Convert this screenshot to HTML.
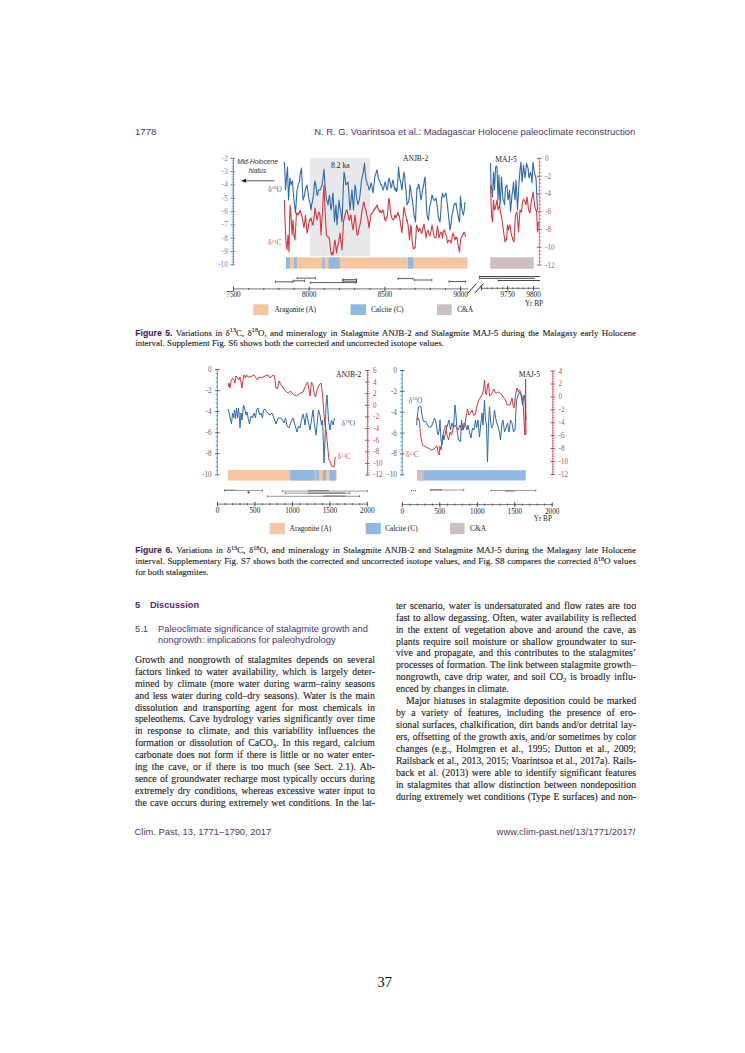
<!DOCTYPE html>
<html><head><meta charset="utf-8"><title>Madagascar Holocene paleoclimate reconstruction</title>
<style>
html,body{margin:0;padding:0;background:#fff;}
body{width:745px;height:1053px;position:relative;overflow:hidden;}
.bt,.ct,.hd,.sn{position:absolute;white-space:normal;line-height:0;height:0;}
.bt{font-family:"Liberation Serif",serif;font-size:9.8px;color:#1d1d1d;text-align:justify;text-align-last:justify;}
.ct{font-family:"Liberation Serif",serif;font-size:8.95px;color:#1d1d1d;text-align:justify;text-align-last:justify;}
.l{text-align-last:left;}
.bt sub,.ct sub{font-size:70%;vertical-align:baseline;position:relative;top:0.28em;line-height:0;}
.bt sup,.ct sup{font-size:70%;vertical-align:baseline;position:relative;top:-0.5em;line-height:0;}
.fl{font-family:"Liberation Sans",sans-serif;font-weight:bold;color:#55246a;font-size:8.7px;}
.hd{font-family:"Liberation Sans",sans-serif;color:#50336f;white-space:nowrap;}
svg{position:absolute;left:0;top:0;}
.bt,.ct{-webkit-text-stroke:0.12px #1d1d1d;}
</style></head><body>
<div class="hd" style="left:135.0px;top:131.55px;font-size:9.65px">1778</div>
<div class="hd" style="left:314.2px;top:131.63px;font-size:9.44px">N. R. G. Voarintsoa et al.: Madagascar Holocene paleoclimate reconstruction</div>
<svg width="745" height="1053" viewBox="0 0 745 1053"><rect x="310.2" y="158.1" width="60" height="98" fill="#e8e8eb"/>
<text x="340.4" y="167.8" font-family="Liberation Serif, serif" font-size="7.6" fill="#222" text-anchor="middle"  >8.2 ka</text>
<text x="415.6" y="161.3" font-family="Liberation Serif, serif" font-size="7.6" fill="#222" text-anchor="middle"  >ANJB-2</text>
<text x="506.1" y="161.5" font-family="Liberation Serif, serif" font-size="7.6" fill="#222" text-anchor="middle"  >MAJ-5</text>
<line x1="233.4" y1="158.4" x2="233.4" y2="264.8" stroke="#3f7cae" stroke-width="0.9"/>
<line x1="230.4" y1="158.4" x2="234.9" y2="158.4" stroke="#3f7cae" stroke-width="0.9"/>
<text x="227.8" y="160.8" font-family="Liberation Serif, serif" font-size="7.2" fill="#5b8fbd" text-anchor="end"  >-2</text>
<line x1="231.6" y1="161.1" x2="233.4" y2="161.1" stroke="#3f7cae" stroke-width="0.6"/>
<line x1="231.6" y1="163.7" x2="233.4" y2="163.7" stroke="#3f7cae" stroke-width="0.6"/>
<line x1="231.6" y1="166.4" x2="233.4" y2="166.4" stroke="#3f7cae" stroke-width="0.6"/>
<line x1="231.6" y1="169.0" x2="233.4" y2="169.0" stroke="#3f7cae" stroke-width="0.6"/>
<line x1="230.4" y1="171.7" x2="234.9" y2="171.7" stroke="#3f7cae" stroke-width="0.9"/>
<text x="227.8" y="174.1" font-family="Liberation Serif, serif" font-size="7.2" fill="#5b8fbd" text-anchor="end"  >-3</text>
<line x1="231.6" y1="174.4" x2="233.4" y2="174.4" stroke="#3f7cae" stroke-width="0.6"/>
<line x1="231.6" y1="177.0" x2="233.4" y2="177.0" stroke="#3f7cae" stroke-width="0.6"/>
<line x1="231.6" y1="179.7" x2="233.4" y2="179.7" stroke="#3f7cae" stroke-width="0.6"/>
<line x1="231.6" y1="182.3" x2="233.4" y2="182.3" stroke="#3f7cae" stroke-width="0.6"/>
<line x1="230.4" y1="185.0" x2="234.9" y2="185.0" stroke="#3f7cae" stroke-width="0.9"/>
<text x="227.8" y="187.4" font-family="Liberation Serif, serif" font-size="7.2" fill="#5b8fbd" text-anchor="end"  >-4</text>
<line x1="231.6" y1="187.7" x2="233.4" y2="187.7" stroke="#3f7cae" stroke-width="0.6"/>
<line x1="231.6" y1="190.3" x2="233.4" y2="190.3" stroke="#3f7cae" stroke-width="0.6"/>
<line x1="231.6" y1="193.0" x2="233.4" y2="193.0" stroke="#3f7cae" stroke-width="0.6"/>
<line x1="231.6" y1="195.6" x2="233.4" y2="195.6" stroke="#3f7cae" stroke-width="0.6"/>
<line x1="230.4" y1="198.3" x2="234.9" y2="198.3" stroke="#3f7cae" stroke-width="0.9"/>
<text x="227.8" y="200.7" font-family="Liberation Serif, serif" font-size="7.2" fill="#5b8fbd" text-anchor="end"  >-5</text>
<line x1="231.6" y1="201.0" x2="233.4" y2="201.0" stroke="#3f7cae" stroke-width="0.6"/>
<line x1="231.6" y1="203.6" x2="233.4" y2="203.6" stroke="#3f7cae" stroke-width="0.6"/>
<line x1="231.6" y1="206.3" x2="233.4" y2="206.3" stroke="#3f7cae" stroke-width="0.6"/>
<line x1="231.6" y1="208.9" x2="233.4" y2="208.9" stroke="#3f7cae" stroke-width="0.6"/>
<line x1="230.4" y1="211.6" x2="234.9" y2="211.6" stroke="#3f7cae" stroke-width="0.9"/>
<text x="227.8" y="214.0" font-family="Liberation Serif, serif" font-size="7.2" fill="#5b8fbd" text-anchor="end"  >-6</text>
<line x1="231.6" y1="214.3" x2="233.4" y2="214.3" stroke="#3f7cae" stroke-width="0.6"/>
<line x1="231.6" y1="216.9" x2="233.4" y2="216.9" stroke="#3f7cae" stroke-width="0.6"/>
<line x1="231.6" y1="219.6" x2="233.4" y2="219.6" stroke="#3f7cae" stroke-width="0.6"/>
<line x1="231.6" y1="222.2" x2="233.4" y2="222.2" stroke="#3f7cae" stroke-width="0.6"/>
<line x1="230.4" y1="224.9" x2="234.9" y2="224.9" stroke="#3f7cae" stroke-width="0.9"/>
<text x="227.8" y="227.3" font-family="Liberation Serif, serif" font-size="7.2" fill="#5b8fbd" text-anchor="end"  >-7</text>
<line x1="231.6" y1="227.6" x2="233.4" y2="227.6" stroke="#3f7cae" stroke-width="0.6"/>
<line x1="231.6" y1="230.2" x2="233.4" y2="230.2" stroke="#3f7cae" stroke-width="0.6"/>
<line x1="231.6" y1="232.9" x2="233.4" y2="232.9" stroke="#3f7cae" stroke-width="0.6"/>
<line x1="231.6" y1="235.5" x2="233.4" y2="235.5" stroke="#3f7cae" stroke-width="0.6"/>
<line x1="230.4" y1="238.2" x2="234.9" y2="238.2" stroke="#3f7cae" stroke-width="0.9"/>
<text x="227.8" y="240.6" font-family="Liberation Serif, serif" font-size="7.2" fill="#5b8fbd" text-anchor="end"  >-8</text>
<line x1="231.6" y1="240.9" x2="233.4" y2="240.9" stroke="#3f7cae" stroke-width="0.6"/>
<line x1="231.6" y1="243.5" x2="233.4" y2="243.5" stroke="#3f7cae" stroke-width="0.6"/>
<line x1="231.6" y1="246.2" x2="233.4" y2="246.2" stroke="#3f7cae" stroke-width="0.6"/>
<line x1="231.6" y1="248.8" x2="233.4" y2="248.8" stroke="#3f7cae" stroke-width="0.6"/>
<line x1="230.4" y1="251.5" x2="234.9" y2="251.5" stroke="#3f7cae" stroke-width="0.9"/>
<text x="227.8" y="253.9" font-family="Liberation Serif, serif" font-size="7.2" fill="#5b8fbd" text-anchor="end"  >-9</text>
<line x1="231.6" y1="254.2" x2="233.4" y2="254.2" stroke="#3f7cae" stroke-width="0.6"/>
<line x1="231.6" y1="256.8" x2="233.4" y2="256.8" stroke="#3f7cae" stroke-width="0.6"/>
<line x1="231.6" y1="259.5" x2="233.4" y2="259.5" stroke="#3f7cae" stroke-width="0.6"/>
<line x1="231.6" y1="262.1" x2="233.4" y2="262.1" stroke="#3f7cae" stroke-width="0.6"/>
<line x1="230.4" y1="264.8" x2="234.9" y2="264.8" stroke="#3f7cae" stroke-width="0.9"/>
<text x="227.8" y="267.2" font-family="Liberation Serif, serif" font-size="7.2" fill="#5b8fbd" text-anchor="end"  >-10</text>
<line x1="539.3" y1="158.4" x2="539.3" y2="265.1" stroke="#e0677a" stroke-width="0.9"/>
<line x1="536.8" y1="158.4" x2="541.5" y2="158.4" stroke="#b84050" stroke-width="0.9"/>
<text x="545.0" y="160.8" font-family="Liberation Serif, serif" font-size="7.2" fill="#c0505f" text-anchor="start"  >0</text>
<line x1="539.3" y1="162.0" x2="541.1999999999999" y2="162.0" stroke="#b84050" stroke-width="0.6"/>
<line x1="539.3" y1="165.5" x2="541.1999999999999" y2="165.5" stroke="#b84050" stroke-width="0.6"/>
<line x1="539.3" y1="169.1" x2="541.1999999999999" y2="169.1" stroke="#b84050" stroke-width="0.6"/>
<line x1="539.3" y1="172.6" x2="541.1999999999999" y2="172.6" stroke="#b84050" stroke-width="0.6"/>
<line x1="536.8" y1="176.2" x2="541.5" y2="176.2" stroke="#b84050" stroke-width="0.9"/>
<text x="545.0" y="178.6" font-family="Liberation Serif, serif" font-size="7.2" fill="#c0505f" text-anchor="start"  >-2</text>
<line x1="539.3" y1="179.7" x2="541.1999999999999" y2="179.7" stroke="#b84050" stroke-width="0.6"/>
<line x1="539.3" y1="183.3" x2="541.1999999999999" y2="183.3" stroke="#b84050" stroke-width="0.6"/>
<line x1="539.3" y1="186.9" x2="541.1999999999999" y2="186.9" stroke="#b84050" stroke-width="0.6"/>
<line x1="539.3" y1="190.4" x2="541.1999999999999" y2="190.4" stroke="#b84050" stroke-width="0.6"/>
<line x1="536.8" y1="194.0" x2="541.5" y2="194.0" stroke="#b84050" stroke-width="0.9"/>
<text x="545.0" y="196.4" font-family="Liberation Serif, serif" font-size="7.2" fill="#c0505f" text-anchor="start"  >-4</text>
<line x1="539.3" y1="197.5" x2="541.1999999999999" y2="197.5" stroke="#b84050" stroke-width="0.6"/>
<line x1="539.3" y1="201.1" x2="541.1999999999999" y2="201.1" stroke="#b84050" stroke-width="0.6"/>
<line x1="539.3" y1="204.6" x2="541.1999999999999" y2="204.6" stroke="#b84050" stroke-width="0.6"/>
<line x1="539.3" y1="208.2" x2="541.1999999999999" y2="208.2" stroke="#b84050" stroke-width="0.6"/>
<line x1="536.8" y1="211.8" x2="541.5" y2="211.8" stroke="#b84050" stroke-width="0.9"/>
<text x="545.0" y="214.2" font-family="Liberation Serif, serif" font-size="7.2" fill="#c0505f" text-anchor="start"  >-6</text>
<line x1="539.3" y1="215.3" x2="541.1999999999999" y2="215.3" stroke="#b84050" stroke-width="0.6"/>
<line x1="539.3" y1="218.9" x2="541.1999999999999" y2="218.9" stroke="#b84050" stroke-width="0.6"/>
<line x1="539.3" y1="222.4" x2="541.1999999999999" y2="222.4" stroke="#b84050" stroke-width="0.6"/>
<line x1="539.3" y1="226.0" x2="541.1999999999999" y2="226.0" stroke="#b84050" stroke-width="0.6"/>
<line x1="536.8" y1="229.5" x2="541.5" y2="229.5" stroke="#b84050" stroke-width="0.9"/>
<text x="545.0" y="231.9" font-family="Liberation Serif, serif" font-size="7.2" fill="#c0505f" text-anchor="start"  >-8</text>
<line x1="539.3" y1="233.1" x2="541.1999999999999" y2="233.1" stroke="#b84050" stroke-width="0.6"/>
<line x1="539.3" y1="236.6" x2="541.1999999999999" y2="236.6" stroke="#b84050" stroke-width="0.6"/>
<line x1="539.3" y1="240.2" x2="541.1999999999999" y2="240.2" stroke="#b84050" stroke-width="0.6"/>
<line x1="539.3" y1="243.8" x2="541.1999999999999" y2="243.8" stroke="#b84050" stroke-width="0.6"/>
<line x1="536.8" y1="247.3" x2="541.5" y2="247.3" stroke="#b84050" stroke-width="0.9"/>
<text x="545.0" y="249.7" font-family="Liberation Serif, serif" font-size="7.2" fill="#c0505f" text-anchor="start"  >-10</text>
<line x1="539.3" y1="250.9" x2="541.1999999999999" y2="250.9" stroke="#b84050" stroke-width="0.6"/>
<line x1="539.3" y1="254.4" x2="541.1999999999999" y2="254.4" stroke="#b84050" stroke-width="0.6"/>
<line x1="539.3" y1="258.0" x2="541.1999999999999" y2="258.0" stroke="#b84050" stroke-width="0.6"/>
<line x1="539.3" y1="261.5" x2="541.1999999999999" y2="261.5" stroke="#b84050" stroke-width="0.6"/>
<line x1="536.8" y1="265.1" x2="541.5" y2="265.1" stroke="#b84050" stroke-width="0.9"/>
<text x="545.0" y="267.5" font-family="Liberation Serif, serif" font-size="7.2" fill="#c0505f" text-anchor="start"  >-12</text>
<text x="257.5" y="164.2" font-family="Liberation Sans, sans-serif" font-size="6.6" fill="#333" text-anchor="middle" font-style="italic" >Mid-Holocene</text>
<text x="257.5" y="172.6" font-family="Liberation Sans, sans-serif" font-size="6.6" fill="#333" text-anchor="middle" font-style="italic" >hiatus</text>
<line x1="274.4" y1="180.8" x2="245" y2="180.8" stroke="#555" stroke-width="1"/>
<polygon points="240.8,180.8 246,178.8 246,182.8" fill="#222"/>
<text x="268.3" y="192.0" font-family="Liberation Serif, serif" font-size="7.4" fill="#4d6690" text-anchor="start"  >δ<tspan font-size="4.6" dy="-2.6">18</tspan><tspan dy="2.6">O</tspan></text>
<text x="268.3" y="245.3" font-family="Liberation Serif, serif" font-size="7.4" fill="#c8545a" text-anchor="start"  >δ<tspan font-size="4.6" dy="-2.6">13</tspan><tspan dy="2.6">C</tspan></text>
<rect x="286" y="257.4" width="181.3" height="11.2" fill="#f6c5a2"/>
<rect x="286" y="257.4" width="4.0" height="11.2" fill="#91b8e1"/>
<rect x="294.1" y="257.4" width="2.7" height="11.2" fill="#91b8e1"/>
<rect x="322.3" y="257.4" width="2.4" height="11.2" fill="#91b8e1"/>
<rect x="328.5" y="257.4" width="11.3" height="11.2" fill="#91b8e1"/>
<rect x="408" y="257.4" width="5.2" height="11.2" fill="#91b8e1"/>
<rect x="490.3" y="257.3" width="43.4" height="11.5" fill="#cbbfbf"/>
<polyline points="284.4,200.0 285.0,220.0 286.0,242.0 287.0,250.0 288.0,235.0 289.0,252.0 290.0,205.0 291.0,215.0 292.0,235.0 293.0,220.0 294.0,236.0 295.0,240.0 295.8,224.8 296.5,213.0 297.2,213.5 298.0,215.0 298.7,212.7 299.3,213.4 300.0,210.0 300.7,212.2 301.3,214.3 302.0,216.0 302.7,220.3 303.3,224.3 304.0,228.0 304.8,221.8 305.5,215.0 306.2,223.5 307.0,233.0 307.7,231.0 308.3,226.9 309.0,222.0 309.7,219.5 310.3,220.3 311.0,218.0 311.7,221.0 312.3,224.5 313.0,225.0 313.7,219.2 314.3,215.4 315.0,208.0 315.7,212.0 316.3,216.1 317.0,220.0 317.7,217.3 318.3,213.1 319.0,212.0 320.0,215.0 321.0,235.0 321.8,221.8 322.5,212.0 323.2,198.1 324.0,185.0 325.0,210.0 325.8,224.0 326.5,235.0 327.2,236.3 328.0,237.0 328.8,237.1 329.5,240.0 330.2,246.7 331.0,253.0 331.7,254.7 332.3,252.4 333.0,255.0 333.7,250.5 334.3,243.1 335.0,240.0 335.8,246.1 336.5,253.0 337.2,247.8 338.0,245.0 338.7,241.9 339.3,237.9 340.0,233.0 340.7,239.9 341.3,244.2 342.0,250.0 342.8,235.7 343.5,222.0 344.2,218.2 345.0,215.0 345.7,213.0 346.3,210.1 347.0,210.0 347.7,213.3 348.3,216.6 349.0,220.0 349.7,220.1 350.3,215.6 351.0,215.0 351.7,221.9 352.3,225.6 353.0,230.0 353.7,226.0 354.3,220.5 355.0,215.0 355.7,221.3 356.3,228.1 357.0,235.0 358.0,235.0 358.7,230.2 359.3,227.9 360.0,225.0 360.7,220.6 361.3,216.6 362.0,210.0 362.7,207.9 363.3,203.5 364.0,202.0 364.7,206.3 365.3,208.9 366.0,210.0 366.7,214.9 367.3,216.6 368.0,220.0 369.0,228.0 369.7,222.5 370.3,219.9 371.0,214.0 371.7,214.1 372.3,212.7 373.0,212.0 373.7,209.8 374.3,210.2 375.0,208.0 375.7,208.2 376.3,206.5 377.0,205.0 377.7,207.3 378.3,209.5 379.0,210.0 379.7,212.3 380.3,210.5 381.0,212.0 381.7,213.0 382.3,211.3 383.0,210.0 383.7,212.1 384.3,217.0 385.0,220.0 385.7,220.8 386.3,217.6 387.0,218.0 387.7,212.8 388.3,203.4 389.0,198.0 389.7,201.8 390.3,211.2 391.0,215.0 391.7,217.9 392.3,218.4 393.0,220.0 393.7,219.0 394.3,218.5 395.0,215.0 396.0,218.0 396.7,215.3 397.3,215.1 398.0,212.0 398.7,215.8 399.3,215.9 400.0,220.0 400.7,225.0 401.3,228.4 402.0,233.0 402.7,224.8 403.3,213.8 404.0,207.0 404.7,209.8 405.3,214.7 406.0,216.0 406.7,220.8 407.3,220.1 408.0,225.0 408.8,231.8 409.5,240.0 410.2,231.9 411.0,225.0 411.7,233.9 412.3,241.7 413.0,247.0 413.7,249.0 414.3,247.9 415.0,248.0 415.8,238.3 416.5,225.0 417.2,226.8 418.0,230.0 418.7,231.6 419.3,228.1 420.0,230.0 420.7,230.1 421.3,233.3 422.0,233.0 422.7,229.4 423.3,226.3 424.0,224.0 424.7,228.4 425.3,231.9 426.0,238.0 426.7,233.7 427.3,232.1 428.0,230.0 428.7,233.2 429.3,234.6 430.0,236.0 430.7,232.5 431.3,229.7 432.0,225.0 432.7,228.0 433.3,232.6 434.0,236.0 434.7,237.1 435.3,237.6 436.0,238.0 436.8,231.5 437.5,226.0 438.2,230.5 439.0,238.0 439.7,235.3 440.3,233.6 441.0,232.0 441.8,233.2 442.5,238.0 443.2,232.3 444.0,230.0 444.7,230.7 445.3,234.0 446.0,235.0 446.8,237.7 447.5,243.0 448.2,241.5 449.0,240.0 449.7,240.5 450.3,240.7 451.0,243.0 451.7,240.8 452.3,235.5 453.0,233.0 453.7,235.6 454.3,237.5 455.0,240.0 455.7,237.2 456.3,238.7 457.0,237.0 458.0,245.0 458.8,248.7 459.5,252.0 460.2,243.9 461.0,238.0 461.8,237.3 462.5,235.0 463.2,234.6 464.0,232.0 464.8,233.2 465.5,237.0" fill="none" stroke="#d0393f" stroke-width="1.1" stroke-linejoin="round"/>
<polyline points="284.4,162.0 285.0,175.0 285.5,190.0 286.5,178.0 287.5,167.0 288.5,200.0 289.2,188.7 290.0,178.0 291.0,185.0 291.8,182.2 292.5,181.0 293.2,192.1 294.0,200.0 294.8,207.0 295.5,213.0 296.2,203.1 297.0,190.0 297.7,188.4 298.3,183.8 299.0,183.0 299.6,180.6 300.2,173.7 300.9,170.9 301.5,168.0 302.2,185.0 303.0,200.0 303.8,198.0 304.5,195.0 305.1,191.0 305.8,188.3 306.4,186.3 307.0,185.0 307.7,190.0 308.3,194.8 309.0,200.0 309.7,202.0 310.3,204.8 311.0,210.0 311.7,204.5 312.3,202.5 313.0,198.0 313.7,193.5 314.3,185.4 315.0,181.0 315.7,184.4 316.3,188.7 317.0,195.0 317.7,195.3 318.3,190.0 319.0,190.0 320.0,190.0 320.7,189.5 321.3,186.2 322.0,185.0 322.7,180.7 323.3,175.7 324.0,169.0 325.0,185.0 325.8,192.5 326.5,200.0 327.2,201.1 328.0,205.0 328.8,199.6 329.5,195.0 330.2,203.3 331.0,210.0 331.7,206.1 332.3,197.2 333.0,193.0 333.8,208.2 334.5,222.0 335.2,212.9 336.0,205.0 337.0,225.0 337.7,216.1 338.3,209.0 339.0,200.0 340.0,208.0 340.7,211.0 341.3,215.6 342.0,222.0 342.7,204.3 343.3,188.3 344.0,172.0 344.7,175.5 345.3,180.1 346.0,185.0 346.7,183.6 347.3,183.4 348.0,182.0 348.7,190.6 349.3,200.7 350.0,210.0 350.7,203.7 351.3,197.0 352.0,190.0 352.8,201.4 353.5,210.0 354.2,198.4 355.0,185.0 355.7,188.5 356.3,195.5 357.0,200.0 358.0,205.0 358.7,201.8 359.3,200.3 360.0,195.0 360.7,188.8 361.3,181.9 362.0,178.0 362.6,175.8 363.2,172.3 363.9,168.2 364.5,163.0 365.2,172.7 366.0,180.0 366.7,181.0 367.3,184.7 368.0,185.0 369.0,190.0 369.7,188.8 370.3,186.6 371.0,183.0 371.7,184.5 372.3,188.9 373.0,193.0 373.7,187.1 374.3,182.3 375.0,175.0 375.7,175.0 376.3,171.3 377.0,170.0 377.7,173.5 378.3,177.8 379.0,180.0 379.7,181.2 380.3,183.3 381.0,185.0 381.7,184.8 382.3,188.1 383.0,190.0 383.7,188.4 384.3,185.1 385.0,182.0 385.7,183.9 386.3,187.7 387.0,190.0 387.7,187.7 388.3,181.9 389.0,178.0 389.7,181.1 390.3,183.0 391.0,188.0 391.7,187.0 392.3,182.3 393.0,180.0 393.7,183.7 394.3,187.6 395.0,190.0 395.7,188.2 396.3,191.7 397.0,190.0 397.8,180.5 398.5,167.0 399.2,173.9 400.0,180.0 400.7,181.8 401.3,186.6 402.0,190.0 402.7,182.1 403.3,177.3 404.0,172.0 404.7,176.7 405.3,185.6 406.0,190.0 407.0,205.0 407.7,202.7 408.3,202.7 409.0,200.0 410.0,185.0 410.7,189.3 411.3,193.9 412.0,198.0 412.7,203.1 413.3,208.3 414.0,215.0 414.8,218.4 415.5,222.0 416.2,204.0 417.0,188.0 417.7,188.7 418.3,184.1 419.0,185.0 419.7,190.1 420.3,195.0 421.0,200.0 421.7,196.8 422.3,190.5 423.0,188.0 423.7,184.7 424.3,180.1 425.0,177.0 425.7,189.0 426.3,202.9 427.0,215.0 427.8,218.3 428.5,220.0 429.2,210.6 430.0,205.0 430.7,203.3 431.3,199.2 432.0,195.0 432.7,197.2 433.3,199.1 434.0,200.0 434.7,200.4 435.3,199.7 436.0,198.0 436.8,203.5 437.5,208.0 438.2,215.8 439.0,220.0 440.0,222.0 440.8,212.4 441.5,200.0 442.5,193.0 443.2,196.3 444.0,197.0 444.7,195.7 445.3,193.8 446.0,193.0 446.8,200.1 447.5,205.0 448.2,212.7 449.0,220.0 450.0,230.0 450.7,226.3 451.3,221.8 452.0,215.0 452.7,212.7 453.3,209.2 454.0,205.0 454.7,203.6 455.3,204.2 456.0,203.0 456.7,208.2 457.3,211.5 458.0,215.0 458.8,220.1 459.5,222.0 460.5,196.0 461.2,204.2 462.0,210.0 462.8,213.6 463.5,215.0 464.2,209.8 465.0,202.0" fill="none" stroke="#2d6ba8" stroke-width="1.1" stroke-linejoin="round"/>
<polyline points="490.5,185.0 491.5,215.0 492.5,222.0 493.5,200.0 494.5,210.0 495.2,208.7 496.0,205.0 497.0,200.0 498.0,210.0 498.8,207.6 499.5,205.0 500.5,212.0 501.2,214.3 502.0,220.0 503.0,227.0 504.0,235.0 505.0,242.0 505.8,239.6 506.5,240.0 507.5,225.0 508.5,230.0 509.2,226.7 510.0,225.0 510.8,231.7 511.5,235.0 512.2,237.2 513.0,240.0 514.0,242.0 514.8,226.7 515.5,215.0 516.2,213.5 517.0,212.0 517.8,222.3 518.5,232.0 519.2,221.9 520.0,210.0 520.8,211.5 521.5,212.0 522.2,204.3 523.0,200.0 523.8,199.7 524.5,200.0 525.2,202.0 526.0,205.0 527.0,197.0 527.8,202.6 528.5,210.0 529.2,211.4 530.0,213.0 530.8,205.9 531.5,200.0 532.2,197.4 533.0,192.0 534.0,200.0 535.0,208.0 535.8,210.1 536.5,210.0 537.0,220.0 537.5,232.0 538.5,222.0" fill="none" stroke="#d0393f" stroke-width="1.1" stroke-linejoin="round"/>
<polyline points="490.5,163.0 491.0,185.0 491.8,189.8 492.5,197.0 493.5,172.0 494.5,190.0 495.5,168.0 496.2,166.1 497.0,167.0 498.0,200.0 499.0,175.0 500.0,205.0 500.8,192.1 501.5,177.0 502.2,187.4 503.0,200.0 503.8,201.4 504.5,205.0 505.5,187.0 506.2,186.6 507.0,185.0 508.0,200.0 508.8,196.6 509.5,190.0 510.5,212.0 511.2,204.1 512.0,195.0 512.8,190.2 513.5,182.0 514.2,192.3 515.0,200.0 516.0,180.0 516.8,195.1 517.5,210.0 518.2,198.0 519.0,183.0 520.0,170.0 521.0,162.0 522.0,182.0 522.8,173.6 523.5,165.0 524.2,170.9 525.0,178.0 525.8,171.2 526.5,163.0 527.2,165.6 528.0,168.0 529.0,178.0 529.8,174.9 530.5,172.0 531.2,175.8 532.0,183.0 533.0,162.0 534.0,170.0 535.0,175.0 536.0,178.0 537.0,200.0 537.5,210.0" fill="none" stroke="#2d6ba8" stroke-width="1.1" stroke-linejoin="round"/>
<line x1="233.5" y1="288.9" x2="468.3" y2="288.9" stroke="#666" stroke-width="0.9"/>
<line x1="233.5" y1="286.6" x2="233.5" y2="291.2" stroke="#333" stroke-width="0.9"/>
<text x="233.5" y="297.0" font-family="Liberation Serif, serif" font-size="7.2" fill="#222" text-anchor="middle"  >7500</text>
<line x1="248.6" y1="287.8" x2="248.6" y2="290" stroke="#333" stroke-width="0.7"/>
<line x1="263.8" y1="287.8" x2="263.8" y2="290" stroke="#333" stroke-width="0.7"/>
<line x1="278.9" y1="287.8" x2="278.9" y2="290" stroke="#333" stroke-width="0.7"/>
<line x1="294.1" y1="287.8" x2="294.1" y2="290" stroke="#333" stroke-width="0.7"/>
<line x1="309.2" y1="286.6" x2="309.2" y2="291.2" stroke="#333" stroke-width="0.9"/>
<text x="309.2" y="297.0" font-family="Liberation Serif, serif" font-size="7.2" fill="#222" text-anchor="middle"  >8000</text>
<line x1="324.3" y1="287.8" x2="324.3" y2="290" stroke="#333" stroke-width="0.7"/>
<line x1="339.5" y1="287.8" x2="339.5" y2="290" stroke="#333" stroke-width="0.7"/>
<line x1="354.6" y1="287.8" x2="354.6" y2="290" stroke="#333" stroke-width="0.7"/>
<line x1="369.8" y1="287.8" x2="369.8" y2="290" stroke="#333" stroke-width="0.7"/>
<line x1="384.9" y1="286.6" x2="384.9" y2="291.2" stroke="#333" stroke-width="0.9"/>
<text x="384.9" y="297.0" font-family="Liberation Serif, serif" font-size="7.2" fill="#222" text-anchor="middle"  >8500</text>
<line x1="400.0" y1="287.8" x2="400.0" y2="290" stroke="#333" stroke-width="0.7"/>
<line x1="415.2" y1="287.8" x2="415.2" y2="290" stroke="#333" stroke-width="0.7"/>
<line x1="430.3" y1="287.8" x2="430.3" y2="290" stroke="#333" stroke-width="0.7"/>
<line x1="445.5" y1="287.8" x2="445.5" y2="290" stroke="#333" stroke-width="0.7"/>
<line x1="460.6" y1="286.6" x2="460.6" y2="291.2" stroke="#333" stroke-width="0.9"/>
<text x="460.6" y="297.0" font-family="Liberation Serif, serif" font-size="7.2" fill="#222" text-anchor="middle"  >9000</text>
<line x1="467.5" y1="293.6" x2="476.4" y2="283.6" stroke="#222" stroke-width="1"/>
<line x1="474.9" y1="293.0" x2="483.4" y2="283.6" stroke="#222" stroke-width="1"/>
<line x1="481.1" y1="288.3" x2="539.8" y2="288.3" stroke="#666" stroke-width="0.9"/>
<line x1="481.8" y1="287.3" x2="481.8" y2="289.3" stroke="#333" stroke-width="0.7"/>
<line x1="487.0" y1="287.3" x2="487.0" y2="289.3" stroke="#333" stroke-width="0.7"/>
<line x1="492.2" y1="287.3" x2="492.2" y2="289.3" stroke="#333" stroke-width="0.7"/>
<line x1="497.3" y1="287.3" x2="497.3" y2="289.3" stroke="#333" stroke-width="0.7"/>
<line x1="502.5" y1="287.3" x2="502.5" y2="289.3" stroke="#333" stroke-width="0.7"/>
<line x1="507.7" y1="286.0" x2="507.7" y2="290.6" stroke="#333" stroke-width="0.9"/>
<text x="507.7" y="297.0" font-family="Liberation Serif, serif" font-size="7.2" fill="#222" text-anchor="middle"  >9750</text>
<line x1="512.9" y1="287.3" x2="512.9" y2="289.3" stroke="#333" stroke-width="0.7"/>
<line x1="518.1" y1="287.3" x2="518.1" y2="289.3" stroke="#333" stroke-width="0.7"/>
<line x1="523.2" y1="287.3" x2="523.2" y2="289.3" stroke="#333" stroke-width="0.7"/>
<line x1="528.4" y1="287.3" x2="528.4" y2="289.3" stroke="#333" stroke-width="0.7"/>
<line x1="533.6" y1="286.0" x2="533.6" y2="290.6" stroke="#333" stroke-width="0.9"/>
<text x="533.6" y="297.0" font-family="Liberation Serif, serif" font-size="7.2" fill="#222" text-anchor="middle"  >9800</text>
<line x1="481.4" y1="286.0" x2="481.4" y2="290.6" stroke="#333" stroke-width="0.9"/>
<text x="534.0" y="305.9" font-family="Liberation Serif, serif" font-size="7.2" fill="#222" text-anchor="middle"  >Yr BP</text>
<line x1="275.4" y1="281.8" x2="292.7" y2="281.8" stroke="#333" stroke-width="0.8"/>
<line x1="275.4" y1="280.5" x2="275.4" y2="283.1" stroke="#333" stroke-width="0.7"/>
<line x1="292.7" y1="280.5" x2="292.7" y2="283.1" stroke="#333" stroke-width="0.7"/>
<line x1="293.9" y1="280.8" x2="304.5" y2="280.8" stroke="#333" stroke-width="0.8"/>
<line x1="293.9" y1="279.5" x2="293.9" y2="282.1" stroke="#333" stroke-width="0.7"/>
<line x1="304.5" y1="279.5" x2="304.5" y2="282.1" stroke="#333" stroke-width="0.7"/>
<line x1="297.1" y1="278.1" x2="315.3" y2="278.1" stroke="#333" stroke-width="0.8"/>
<line x1="297.1" y1="276.8" x2="297.1" y2="279.4" stroke="#333" stroke-width="0.7"/>
<line x1="315.3" y1="276.8" x2="315.3" y2="279.4" stroke="#333" stroke-width="0.7"/>
<line x1="310.3" y1="282.6" x2="356.1" y2="282.6" stroke="#333" stroke-width="0.8"/>
<line x1="310.3" y1="281.3" x2="310.3" y2="283.9" stroke="#333" stroke-width="0.7"/>
<line x1="356.1" y1="281.3" x2="356.1" y2="283.9" stroke="#333" stroke-width="0.7"/>
<line x1="342.8" y1="279.6" x2="356.6" y2="279.6" stroke="#333" stroke-width="0.8"/>
<line x1="342.8" y1="278.3" x2="342.8" y2="280.9" stroke="#333" stroke-width="0.7"/>
<line x1="356.6" y1="278.3" x2="356.6" y2="280.9" stroke="#333" stroke-width="0.7"/>
<line x1="343.0" y1="281.2" x2="356.6" y2="281.2" stroke="#333" stroke-width="0.8"/>
<line x1="343.0" y1="279.9" x2="343.0" y2="282.5" stroke="#333" stroke-width="0.7"/>
<line x1="356.6" y1="279.9" x2="356.6" y2="282.5" stroke="#333" stroke-width="0.7"/>
<line x1="398.1" y1="278.6" x2="412.9" y2="278.6" stroke="#333" stroke-width="0.8"/>
<line x1="398.1" y1="277.3" x2="398.1" y2="279.9" stroke="#333" stroke-width="0.7"/>
<line x1="412.9" y1="277.3" x2="412.9" y2="279.9" stroke="#333" stroke-width="0.7"/>
<line x1="414.4" y1="280.0" x2="431.8" y2="280.0" stroke="#333" stroke-width="0.8"/>
<line x1="414.4" y1="278.7" x2="414.4" y2="281.3" stroke="#333" stroke-width="0.7"/>
<line x1="431.8" y1="278.7" x2="431.8" y2="281.3" stroke="#333" stroke-width="0.7"/>
<line x1="449.1" y1="281.5" x2="465.6" y2="281.5" stroke="#333" stroke-width="0.8"/>
<line x1="449.1" y1="280.2" x2="449.1" y2="282.8" stroke="#333" stroke-width="0.7"/>
<line x1="465.6" y1="280.2" x2="465.6" y2="282.8" stroke="#333" stroke-width="0.7"/>
<line x1="479.4" y1="276.5" x2="540" y2="276.5" stroke="#333" stroke-width="0.9"/>
<line x1="479.4" y1="278.3" x2="535" y2="278.3" stroke="#333" stroke-width="0.9"/>
<line x1="498" y1="280.5" x2="540" y2="280.5" stroke="#333" stroke-width="0.9"/>
<line x1="479.4" y1="275.5" x2="479.4" y2="279.3" stroke="#333" stroke-width="0.7"/>
<line x1="498" y1="279.5" x2="498" y2="281.5" stroke="#333" stroke-width="0.7"/>
<rect x="253.2" y="304.3" width="15.2" height="10.7" fill="#f6c5a2"/>
<text x="274.4" y="312.2" font-family="Liberation Serif, serif" font-size="7.4" fill="#222" text-anchor="start"  >Aragonite (A)</text>
<rect x="350.5" y="304.3" width="15.5" height="10.7" fill="#91b8e1"/>
<text x="370.9" y="312.2" font-family="Liberation Serif, serif" font-size="7.4" fill="#222" text-anchor="start"  >Calcite (C)</text>
<rect x="437" y="304.3" width="14.7" height="10.7" fill="#cbbfbf"/>
<text x="457.2" y="312.2" font-family="Liberation Serif, serif" font-size="7.4" fill="#222" text-anchor="start"  >C&amp;A</text>
<text x="348.7" y="376.7" font-family="Liberation Serif, serif" font-size="7.6" fill="#222" text-anchor="middle"  >ANJB-2</text>
<text x="529.4" y="376.9" font-family="Liberation Serif, serif" font-size="7.6" fill="#222" text-anchor="middle"  >MAJ-5</text>
<line x1="217.3" y1="369.5" x2="217.3" y2="474.8" stroke="#3f8cc0" stroke-width="0.9"/>
<line x1="215.10000000000002" y1="369.5" x2="219.5" y2="369.5" stroke="#2a5a80" stroke-width="0.9"/>
<text x="211.6" y="371.9" font-family="Liberation Serif, serif" font-size="7.2" fill="#4f6275" text-anchor="end"  >0</text>
<line x1="215.70000000000002" y1="373.7" x2="217.3" y2="373.7" stroke="#2a5a80" stroke-width="0.6"/>
<line x1="215.70000000000002" y1="377.9" x2="217.3" y2="377.9" stroke="#2a5a80" stroke-width="0.6"/>
<line x1="215.70000000000002" y1="382.1" x2="217.3" y2="382.1" stroke="#2a5a80" stroke-width="0.6"/>
<line x1="215.70000000000002" y1="386.3" x2="217.3" y2="386.3" stroke="#2a5a80" stroke-width="0.6"/>
<line x1="215.10000000000002" y1="390.6" x2="219.5" y2="390.6" stroke="#2a5a80" stroke-width="0.9"/>
<text x="211.6" y="393.0" font-family="Liberation Serif, serif" font-size="7.2" fill="#4f6275" text-anchor="end"  >-2</text>
<line x1="215.70000000000002" y1="394.8" x2="217.3" y2="394.8" stroke="#2a5a80" stroke-width="0.6"/>
<line x1="215.70000000000002" y1="399.0" x2="217.3" y2="399.0" stroke="#2a5a80" stroke-width="0.6"/>
<line x1="215.70000000000002" y1="403.2" x2="217.3" y2="403.2" stroke="#2a5a80" stroke-width="0.6"/>
<line x1="215.70000000000002" y1="407.4" x2="217.3" y2="407.4" stroke="#2a5a80" stroke-width="0.6"/>
<line x1="215.10000000000002" y1="411.6" x2="219.5" y2="411.6" stroke="#2a5a80" stroke-width="0.9"/>
<text x="211.6" y="414.0" font-family="Liberation Serif, serif" font-size="7.2" fill="#4f6275" text-anchor="end"  >-4</text>
<line x1="215.70000000000002" y1="415.8" x2="217.3" y2="415.8" stroke="#2a5a80" stroke-width="0.6"/>
<line x1="215.70000000000002" y1="420.0" x2="217.3" y2="420.0" stroke="#2a5a80" stroke-width="0.6"/>
<line x1="215.70000000000002" y1="424.3" x2="217.3" y2="424.3" stroke="#2a5a80" stroke-width="0.6"/>
<line x1="215.70000000000002" y1="428.5" x2="217.3" y2="428.5" stroke="#2a5a80" stroke-width="0.6"/>
<line x1="215.10000000000002" y1="432.7" x2="219.5" y2="432.7" stroke="#2a5a80" stroke-width="0.9"/>
<text x="211.6" y="435.1" font-family="Liberation Serif, serif" font-size="7.2" fill="#4f6275" text-anchor="end"  >-6</text>
<line x1="215.70000000000002" y1="436.9" x2="217.3" y2="436.9" stroke="#2a5a80" stroke-width="0.6"/>
<line x1="215.70000000000002" y1="441.1" x2="217.3" y2="441.1" stroke="#2a5a80" stroke-width="0.6"/>
<line x1="215.70000000000002" y1="445.3" x2="217.3" y2="445.3" stroke="#2a5a80" stroke-width="0.6"/>
<line x1="215.70000000000002" y1="449.5" x2="217.3" y2="449.5" stroke="#2a5a80" stroke-width="0.6"/>
<line x1="215.10000000000002" y1="453.7" x2="219.5" y2="453.7" stroke="#2a5a80" stroke-width="0.9"/>
<text x="211.6" y="456.1" font-family="Liberation Serif, serif" font-size="7.2" fill="#4f6275" text-anchor="end"  >-8</text>
<line x1="215.70000000000002" y1="458.0" x2="217.3" y2="458.0" stroke="#2a5a80" stroke-width="0.6"/>
<line x1="215.70000000000002" y1="462.2" x2="217.3" y2="462.2" stroke="#2a5a80" stroke-width="0.6"/>
<line x1="215.70000000000002" y1="466.4" x2="217.3" y2="466.4" stroke="#2a5a80" stroke-width="0.6"/>
<line x1="215.70000000000002" y1="470.6" x2="217.3" y2="470.6" stroke="#2a5a80" stroke-width="0.6"/>
<line x1="215.10000000000002" y1="474.8" x2="219.5" y2="474.8" stroke="#2a5a80" stroke-width="0.9"/>
<text x="211.6" y="477.2" font-family="Liberation Serif, serif" font-size="7.2" fill="#4f6275" text-anchor="end"  >-10</text>
<line x1="367.4" y1="370.5" x2="367.4" y2="475.0" stroke="#d85a6c" stroke-width="0.9"/>
<line x1="365.2" y1="370.5" x2="369.59999999999997" y2="370.5" stroke="#a03848" stroke-width="0.9"/>
<text x="373.0" y="372.9" font-family="Liberation Serif, serif" font-size="7.2" fill="#c04a5a" text-anchor="start"  >6</text>
<line x1="367.4" y1="372.8" x2="369.0" y2="372.8" stroke="#a03848" stroke-width="0.6"/>
<line x1="367.4" y1="375.1" x2="369.0" y2="375.1" stroke="#a03848" stroke-width="0.6"/>
<line x1="367.4" y1="377.5" x2="369.0" y2="377.5" stroke="#a03848" stroke-width="0.6"/>
<line x1="367.4" y1="379.8" x2="369.0" y2="379.8" stroke="#a03848" stroke-width="0.6"/>
<line x1="365.2" y1="382.1" x2="369.59999999999997" y2="382.1" stroke="#a03848" stroke-width="0.9"/>
<text x="373.0" y="384.5" font-family="Liberation Serif, serif" font-size="7.2" fill="#c04a5a" text-anchor="start"  >4</text>
<line x1="367.4" y1="384.4" x2="369.0" y2="384.4" stroke="#a03848" stroke-width="0.6"/>
<line x1="367.4" y1="386.8" x2="369.0" y2="386.8" stroke="#a03848" stroke-width="0.6"/>
<line x1="367.4" y1="389.1" x2="369.0" y2="389.1" stroke="#a03848" stroke-width="0.6"/>
<line x1="367.4" y1="391.4" x2="369.0" y2="391.4" stroke="#a03848" stroke-width="0.6"/>
<line x1="365.2" y1="393.7" x2="369.59999999999997" y2="393.7" stroke="#a03848" stroke-width="0.9"/>
<text x="373.0" y="396.1" font-family="Liberation Serif, serif" font-size="7.2" fill="#c04a5a" text-anchor="start"  >2</text>
<line x1="367.4" y1="396.0" x2="369.0" y2="396.0" stroke="#a03848" stroke-width="0.6"/>
<line x1="367.4" y1="398.4" x2="369.0" y2="398.4" stroke="#a03848" stroke-width="0.6"/>
<line x1="367.4" y1="400.7" x2="369.0" y2="400.7" stroke="#a03848" stroke-width="0.6"/>
<line x1="367.4" y1="403.0" x2="369.0" y2="403.0" stroke="#a03848" stroke-width="0.6"/>
<line x1="365.2" y1="405.3" x2="369.59999999999997" y2="405.3" stroke="#a03848" stroke-width="0.9"/>
<text x="373.0" y="407.7" font-family="Liberation Serif, serif" font-size="7.2" fill="#c04a5a" text-anchor="start"  >0</text>
<line x1="367.4" y1="407.7" x2="369.0" y2="407.7" stroke="#a03848" stroke-width="0.6"/>
<line x1="367.4" y1="410.0" x2="369.0" y2="410.0" stroke="#a03848" stroke-width="0.6"/>
<line x1="367.4" y1="412.3" x2="369.0" y2="412.3" stroke="#a03848" stroke-width="0.6"/>
<line x1="367.4" y1="414.6" x2="369.0" y2="414.6" stroke="#a03848" stroke-width="0.6"/>
<line x1="365.2" y1="416.9" x2="369.59999999999997" y2="416.9" stroke="#a03848" stroke-width="0.9"/>
<text x="373.0" y="419.3" font-family="Liberation Serif, serif" font-size="7.2" fill="#c04a5a" text-anchor="start"  >-2</text>
<line x1="367.4" y1="419.3" x2="369.0" y2="419.3" stroke="#a03848" stroke-width="0.6"/>
<line x1="367.4" y1="421.6" x2="369.0" y2="421.6" stroke="#a03848" stroke-width="0.6"/>
<line x1="367.4" y1="423.9" x2="369.0" y2="423.9" stroke="#a03848" stroke-width="0.6"/>
<line x1="367.4" y1="426.2" x2="369.0" y2="426.2" stroke="#a03848" stroke-width="0.6"/>
<line x1="365.2" y1="428.6" x2="369.59999999999997" y2="428.6" stroke="#a03848" stroke-width="0.9"/>
<text x="373.0" y="431.0" font-family="Liberation Serif, serif" font-size="7.2" fill="#c04a5a" text-anchor="start"  >-4</text>
<line x1="367.4" y1="430.9" x2="369.0" y2="430.9" stroke="#a03848" stroke-width="0.6"/>
<line x1="367.4" y1="433.2" x2="369.0" y2="433.2" stroke="#a03848" stroke-width="0.6"/>
<line x1="367.4" y1="435.5" x2="369.0" y2="435.5" stroke="#a03848" stroke-width="0.6"/>
<line x1="367.4" y1="437.8" x2="369.0" y2="437.8" stroke="#a03848" stroke-width="0.6"/>
<line x1="365.2" y1="440.2" x2="369.59999999999997" y2="440.2" stroke="#a03848" stroke-width="0.9"/>
<text x="373.0" y="442.6" font-family="Liberation Serif, serif" font-size="7.2" fill="#c04a5a" text-anchor="start"  >-6</text>
<line x1="367.4" y1="442.5" x2="369.0" y2="442.5" stroke="#a03848" stroke-width="0.6"/>
<line x1="367.4" y1="444.8" x2="369.0" y2="444.8" stroke="#a03848" stroke-width="0.6"/>
<line x1="367.4" y1="447.1" x2="369.0" y2="447.1" stroke="#a03848" stroke-width="0.6"/>
<line x1="367.4" y1="449.5" x2="369.0" y2="449.5" stroke="#a03848" stroke-width="0.6"/>
<line x1="365.2" y1="451.8" x2="369.59999999999997" y2="451.8" stroke="#a03848" stroke-width="0.9"/>
<text x="373.0" y="454.2" font-family="Liberation Serif, serif" font-size="7.2" fill="#c04a5a" text-anchor="start"  >-8</text>
<line x1="367.4" y1="454.1" x2="369.0" y2="454.1" stroke="#a03848" stroke-width="0.6"/>
<line x1="367.4" y1="456.4" x2="369.0" y2="456.4" stroke="#a03848" stroke-width="0.6"/>
<line x1="367.4" y1="458.7" x2="369.0" y2="458.7" stroke="#a03848" stroke-width="0.6"/>
<line x1="367.4" y1="461.1" x2="369.0" y2="461.1" stroke="#a03848" stroke-width="0.6"/>
<line x1="365.2" y1="463.4" x2="369.59999999999997" y2="463.4" stroke="#a03848" stroke-width="0.9"/>
<text x="373.0" y="465.8" font-family="Liberation Serif, serif" font-size="7.2" fill="#c04a5a" text-anchor="start"  >-10</text>
<line x1="367.4" y1="465.7" x2="369.0" y2="465.7" stroke="#a03848" stroke-width="0.6"/>
<line x1="367.4" y1="468.0" x2="369.0" y2="468.0" stroke="#a03848" stroke-width="0.6"/>
<line x1="367.4" y1="470.4" x2="369.0" y2="470.4" stroke="#a03848" stroke-width="0.6"/>
<line x1="367.4" y1="472.7" x2="369.0" y2="472.7" stroke="#a03848" stroke-width="0.6"/>
<line x1="365.2" y1="475.0" x2="369.59999999999997" y2="475.0" stroke="#a03848" stroke-width="0.9"/>
<text x="373.0" y="477.4" font-family="Liberation Serif, serif" font-size="7.2" fill="#c04a5a" text-anchor="start"  >-12</text>
<line x1="402.2" y1="370.5" x2="402.2" y2="474.8" stroke="#3f8cc0" stroke-width="0.9"/>
<line x1="400.0" y1="370.5" x2="404.4" y2="370.5" stroke="#2a5a80" stroke-width="0.9"/>
<text x="396.9" y="372.9" font-family="Liberation Serif, serif" font-size="7.2" fill="#4f6275" text-anchor="end"  >0</text>
<line x1="400.59999999999997" y1="374.7" x2="402.2" y2="374.7" stroke="#2a5a80" stroke-width="0.6"/>
<line x1="400.59999999999997" y1="378.8" x2="402.2" y2="378.8" stroke="#2a5a80" stroke-width="0.6"/>
<line x1="400.59999999999997" y1="383.0" x2="402.2" y2="383.0" stroke="#2a5a80" stroke-width="0.6"/>
<line x1="400.59999999999997" y1="387.2" x2="402.2" y2="387.2" stroke="#2a5a80" stroke-width="0.6"/>
<line x1="400.0" y1="391.4" x2="404.4" y2="391.4" stroke="#2a5a80" stroke-width="0.9"/>
<text x="396.9" y="393.8" font-family="Liberation Serif, serif" font-size="7.2" fill="#4f6275" text-anchor="end"  >-2</text>
<line x1="400.59999999999997" y1="395.5" x2="402.2" y2="395.5" stroke="#2a5a80" stroke-width="0.6"/>
<line x1="400.59999999999997" y1="399.7" x2="402.2" y2="399.7" stroke="#2a5a80" stroke-width="0.6"/>
<line x1="400.59999999999997" y1="403.9" x2="402.2" y2="403.9" stroke="#2a5a80" stroke-width="0.6"/>
<line x1="400.59999999999997" y1="408.0" x2="402.2" y2="408.0" stroke="#2a5a80" stroke-width="0.6"/>
<line x1="400.0" y1="412.2" x2="404.4" y2="412.2" stroke="#2a5a80" stroke-width="0.9"/>
<text x="396.9" y="414.6" font-family="Liberation Serif, serif" font-size="7.2" fill="#4f6275" text-anchor="end"  >-4</text>
<line x1="400.59999999999997" y1="416.4" x2="402.2" y2="416.4" stroke="#2a5a80" stroke-width="0.6"/>
<line x1="400.59999999999997" y1="420.6" x2="402.2" y2="420.6" stroke="#2a5a80" stroke-width="0.6"/>
<line x1="400.59999999999997" y1="424.7" x2="402.2" y2="424.7" stroke="#2a5a80" stroke-width="0.6"/>
<line x1="400.59999999999997" y1="428.9" x2="402.2" y2="428.9" stroke="#2a5a80" stroke-width="0.6"/>
<line x1="400.0" y1="433.1" x2="404.4" y2="433.1" stroke="#2a5a80" stroke-width="0.9"/>
<text x="396.9" y="435.5" font-family="Liberation Serif, serif" font-size="7.2" fill="#4f6275" text-anchor="end"  >-6</text>
<line x1="400.59999999999997" y1="437.3" x2="402.2" y2="437.3" stroke="#2a5a80" stroke-width="0.6"/>
<line x1="400.59999999999997" y1="441.4" x2="402.2" y2="441.4" stroke="#2a5a80" stroke-width="0.6"/>
<line x1="400.59999999999997" y1="445.6" x2="402.2" y2="445.6" stroke="#2a5a80" stroke-width="0.6"/>
<line x1="400.59999999999997" y1="449.8" x2="402.2" y2="449.8" stroke="#2a5a80" stroke-width="0.6"/>
<line x1="400.0" y1="453.9" x2="404.4" y2="453.9" stroke="#2a5a80" stroke-width="0.9"/>
<text x="396.9" y="456.3" font-family="Liberation Serif, serif" font-size="7.2" fill="#4f6275" text-anchor="end"  >-8</text>
<line x1="400.59999999999997" y1="458.1" x2="402.2" y2="458.1" stroke="#2a5a80" stroke-width="0.6"/>
<line x1="400.59999999999997" y1="462.3" x2="402.2" y2="462.3" stroke="#2a5a80" stroke-width="0.6"/>
<line x1="400.59999999999997" y1="466.5" x2="402.2" y2="466.5" stroke="#2a5a80" stroke-width="0.6"/>
<line x1="400.59999999999997" y1="470.6" x2="402.2" y2="470.6" stroke="#2a5a80" stroke-width="0.6"/>
<line x1="400.0" y1="474.8" x2="404.4" y2="474.8" stroke="#2a5a80" stroke-width="0.9"/>
<text x="396.9" y="477.2" font-family="Liberation Serif, serif" font-size="7.2" fill="#4f6275" text-anchor="end"  >-10</text>
<line x1="552.8" y1="371.1" x2="552.8" y2="474.5" stroke="#d85a6c" stroke-width="0.9"/>
<line x1="550.5999999999999" y1="371.1" x2="555.0" y2="371.1" stroke="#a03848" stroke-width="0.9"/>
<text x="558.5" y="373.5" font-family="Liberation Serif, serif" font-size="7.2" fill="#c04a5a" text-anchor="start"  >4</text>
<line x1="552.8" y1="373.7" x2="554.4" y2="373.7" stroke="#a03848" stroke-width="0.6"/>
<line x1="552.8" y1="376.3" x2="554.4" y2="376.3" stroke="#a03848" stroke-width="0.6"/>
<line x1="552.8" y1="378.9" x2="554.4" y2="378.9" stroke="#a03848" stroke-width="0.6"/>
<line x1="552.8" y1="381.4" x2="554.4" y2="381.4" stroke="#a03848" stroke-width="0.6"/>
<line x1="550.5999999999999" y1="384.0" x2="555.0" y2="384.0" stroke="#a03848" stroke-width="0.9"/>
<text x="558.5" y="386.4" font-family="Liberation Serif, serif" font-size="7.2" fill="#c04a5a" text-anchor="start"  >2</text>
<line x1="552.8" y1="386.6" x2="554.4" y2="386.6" stroke="#a03848" stroke-width="0.6"/>
<line x1="552.8" y1="389.2" x2="554.4" y2="389.2" stroke="#a03848" stroke-width="0.6"/>
<line x1="552.8" y1="391.8" x2="554.4" y2="391.8" stroke="#a03848" stroke-width="0.6"/>
<line x1="552.8" y1="394.4" x2="554.4" y2="394.4" stroke="#a03848" stroke-width="0.6"/>
<line x1="550.5999999999999" y1="397.0" x2="555.0" y2="397.0" stroke="#a03848" stroke-width="0.9"/>
<text x="558.5" y="399.4" font-family="Liberation Serif, serif" font-size="7.2" fill="#c04a5a" text-anchor="start"  >0</text>
<line x1="552.8" y1="399.5" x2="554.4" y2="399.5" stroke="#a03848" stroke-width="0.6"/>
<line x1="552.8" y1="402.1" x2="554.4" y2="402.1" stroke="#a03848" stroke-width="0.6"/>
<line x1="552.8" y1="404.7" x2="554.4" y2="404.7" stroke="#a03848" stroke-width="0.6"/>
<line x1="552.8" y1="407.3" x2="554.4" y2="407.3" stroke="#a03848" stroke-width="0.6"/>
<line x1="550.5999999999999" y1="409.9" x2="555.0" y2="409.9" stroke="#a03848" stroke-width="0.9"/>
<text x="558.5" y="412.3" font-family="Liberation Serif, serif" font-size="7.2" fill="#c04a5a" text-anchor="start"  >-2</text>
<line x1="552.8" y1="412.5" x2="554.4" y2="412.5" stroke="#a03848" stroke-width="0.6"/>
<line x1="552.8" y1="415.0" x2="554.4" y2="415.0" stroke="#a03848" stroke-width="0.6"/>
<line x1="552.8" y1="417.6" x2="554.4" y2="417.6" stroke="#a03848" stroke-width="0.6"/>
<line x1="552.8" y1="420.2" x2="554.4" y2="420.2" stroke="#a03848" stroke-width="0.6"/>
<line x1="550.5999999999999" y1="422.8" x2="555.0" y2="422.8" stroke="#a03848" stroke-width="0.9"/>
<text x="558.5" y="425.2" font-family="Liberation Serif, serif" font-size="7.2" fill="#c04a5a" text-anchor="start"  >-4</text>
<line x1="552.8" y1="425.4" x2="554.4" y2="425.4" stroke="#a03848" stroke-width="0.6"/>
<line x1="552.8" y1="428.0" x2="554.4" y2="428.0" stroke="#a03848" stroke-width="0.6"/>
<line x1="552.8" y1="430.6" x2="554.4" y2="430.6" stroke="#a03848" stroke-width="0.6"/>
<line x1="552.8" y1="433.1" x2="554.4" y2="433.1" stroke="#a03848" stroke-width="0.6"/>
<line x1="550.5999999999999" y1="435.7" x2="555.0" y2="435.7" stroke="#a03848" stroke-width="0.9"/>
<text x="558.5" y="438.1" font-family="Liberation Serif, serif" font-size="7.2" fill="#c04a5a" text-anchor="start"  >-6</text>
<line x1="552.8" y1="438.3" x2="554.4" y2="438.3" stroke="#a03848" stroke-width="0.6"/>
<line x1="552.8" y1="440.9" x2="554.4" y2="440.9" stroke="#a03848" stroke-width="0.6"/>
<line x1="552.8" y1="443.5" x2="554.4" y2="443.5" stroke="#a03848" stroke-width="0.6"/>
<line x1="552.8" y1="446.1" x2="554.4" y2="446.1" stroke="#a03848" stroke-width="0.6"/>
<line x1="550.5999999999999" y1="448.6" x2="555.0" y2="448.6" stroke="#a03848" stroke-width="0.9"/>
<text x="558.5" y="451.0" font-family="Liberation Serif, serif" font-size="7.2" fill="#c04a5a" text-anchor="start"  >-8</text>
<line x1="552.8" y1="451.2" x2="554.4" y2="451.2" stroke="#a03848" stroke-width="0.6"/>
<line x1="552.8" y1="453.8" x2="554.4" y2="453.8" stroke="#a03848" stroke-width="0.6"/>
<line x1="552.8" y1="456.4" x2="554.4" y2="456.4" stroke="#a03848" stroke-width="0.6"/>
<line x1="552.8" y1="459.0" x2="554.4" y2="459.0" stroke="#a03848" stroke-width="0.6"/>
<line x1="550.5999999999999" y1="461.6" x2="555.0" y2="461.6" stroke="#a03848" stroke-width="0.9"/>
<text x="558.5" y="464.0" font-family="Liberation Serif, serif" font-size="7.2" fill="#c04a5a" text-anchor="start"  >-10</text>
<line x1="552.8" y1="464.2" x2="554.4" y2="464.2" stroke="#a03848" stroke-width="0.6"/>
<line x1="552.8" y1="466.7" x2="554.4" y2="466.7" stroke="#a03848" stroke-width="0.6"/>
<line x1="552.8" y1="469.3" x2="554.4" y2="469.3" stroke="#a03848" stroke-width="0.6"/>
<line x1="552.8" y1="471.9" x2="554.4" y2="471.9" stroke="#a03848" stroke-width="0.6"/>
<line x1="550.5999999999999" y1="474.5" x2="555.0" y2="474.5" stroke="#a03848" stroke-width="0.9"/>
<text x="558.5" y="476.9" font-family="Liberation Serif, serif" font-size="7.2" fill="#c04a5a" text-anchor="start"  >-12</text>
<text x="341.6" y="426.0" font-family="Liberation Serif, serif" font-size="7.4" fill="#4d6690" text-anchor="start"  >δ<tspan font-size="4.6" dy="-2.6">18</tspan><tspan dy="2.6">O</tspan></text>
<text x="337.6" y="459.2" font-family="Liberation Serif, serif" font-size="7.4" fill="#c8545a" text-anchor="start"  >δ<tspan font-size="4.6" dy="-2.6">13</tspan><tspan dy="2.6">C</tspan></text>
<text x="408.8" y="402.5" font-family="Liberation Serif, serif" font-size="7.4" fill="#4d6690" text-anchor="start"  >δ<tspan font-size="4.6" dy="-2.6">18</tspan><tspan dy="2.6">O</tspan></text>
<text x="405.9" y="457.2" font-family="Liberation Serif, serif" font-size="7.4" fill="#c8545a" text-anchor="start"  >δ<tspan font-size="4.6" dy="-2.6">13</tspan><tspan dy="2.6">C</tspan></text>
<rect x="227.9" y="470" width="108.4" height="10.5" fill="#f6c5a2"/>
<rect x="290.2" y="470" width="24.6" height="10.5" fill="#91b8e1"/>
<rect x="316.2" y="470" width="2.7" height="10.5" fill="#91b8e1"/>
<rect x="322.9" y="470" width="3.3" height="10.5" fill="#91b8e1"/>
<rect x="329.6" y="470" width="6.7" height="10.5" fill="#91b8e1"/>
<rect x="314.8" y="470" width="1.4" height="10.5" fill="#c2c8d8"/>
<rect x="417" y="470.2" width="108.7" height="10.3" fill="#91b8e1"/>
<rect x="417" y="470.2" width="6.7" height="10.3" fill="#cbbfbf"/>
<polyline points="228.2,386.6 229.0,383.0 230.0,388.0 231.0,381.0 232.5,378.0 234.0,380.0 235.0,383.0 236.0,376.0 237.5,378.0 239.0,380.0 240.0,377.0 241.0,382.0 242.0,388.0 243.0,380.0 244.0,375.0 245.5,378.0 246.5,375.0 248.0,377.0 250.0,377.0 252.0,376.0 254.0,375.0 256.0,378.0 257.5,380.0 259.0,377.0 261.0,378.0 263.0,377.0 265.0,376.0 267.0,375.0 269.0,376.0 270.0,378.0 272.0,376.0 274.0,375.0 275.0,380.0 276.0,388.0 277.5,389.0 279.0,381.0 280.5,384.0 282.0,386.0 284.5,390.0 286.5,392.0 288.5,393.0 290.5,391.0 292.0,393.0 294.0,395.0 296.5,396.0 298.5,394.0 301.0,393.0 303.0,392.0 304.5,388.0 306.0,385.0 307.5,382.0 309.0,390.0 310.0,396.0 311.5,382.0 313.0,385.0 314.0,393.0 315.5,397.0 317.0,390.0 319.0,385.0 321.0,383.0 322.0,390.0 323.0,400.0 324.0,415.0 325.0,425.0 326.0,430.0 327.0,440.0 328.0,450.0 329.0,460.0 330.5,462.0 331.5,466.0 334.0,467.0 335.0,458.0 336.0,457.0" fill="none" stroke="#d0393f" stroke-width="1" stroke-linejoin="round"/>
<polyline points="228.2,409.0 229.5,415.0 230.5,420.0 231.5,424.0 232.5,413.0 233.5,418.0 234.5,410.0 235.5,419.0 236.5,408.0 237.5,418.0 238.5,408.0 239.5,420.0 240.0,428.0 241.0,413.0 242.0,420.0 243.5,405.0 245.0,410.0 246.0,415.0 247.0,412.0 248.5,420.0 249.5,424.0 251.0,416.0 252.5,418.0 254.0,413.0 255.5,418.0 256.5,410.0 258.0,408.0 259.5,415.0 261.0,413.0 262.5,418.0 263.5,410.0 265.0,409.0 267.0,412.0 268.5,414.0 270.0,415.0 272.0,413.0 274.0,418.0 276.0,424.0 278.0,418.0 280.0,418.0 282.0,419.0 284.0,423.0 285.5,418.0 287.0,426.0 289.0,428.0 291.0,422.0 293.0,418.0 295.0,425.0 297.0,432.0 298.5,426.0 300.0,428.0 301.5,420.0 303.0,414.0 304.0,418.0 305.0,425.0 306.5,413.0 308.0,420.0 310.0,430.0 311.5,420.0 313.0,410.0 314.5,425.0 316.0,435.0 317.0,425.0 318.5,410.0 320.0,415.0 321.5,425.0 322.5,420.0 323.5,445.0 324.0,463.0 325.0,440.0 326.0,405.0 327.0,395.0 328.5,420.0 330.0,430.0 331.5,420.0 333.0,425.0 334.5,418.0" fill="none" stroke="#2d6ba8" stroke-width="1" stroke-linejoin="round"/>
<polyline points="416.5,420.0 417.5,418.0 418.5,418.0 419.5,422.0 420.5,435.0 421.5,440.0 422.5,445.0 424.0,446.0 426.0,447.0 428.0,448.0 430.0,449.0 432.0,450.0 434.0,449.0 436.0,447.0 437.0,446.0 438.0,452.0 439.0,455.0 440.0,446.0 441.0,450.0 442.0,440.0 443.0,435.0 444.0,430.0 446.0,425.0 447.0,435.0 448.5,440.0 450.0,432.0 451.5,435.0 453.0,428.0 455.0,425.0 456.5,428.0 458.0,430.0 460.0,425.0 461.5,430.0 463.0,430.0 465.0,425.0 466.0,417.0 467.5,409.0 469.0,415.0 470.5,413.0 472.0,410.0 473.5,415.0 475.0,415.0 476.5,408.0 478.0,402.0 480.0,398.0 482.0,395.0 483.5,390.0 484.5,380.0 485.5,393.0 486.5,395.0 487.5,385.0 488.5,383.0 489.5,396.0 491.0,395.0 492.5,392.0 494.0,389.0 495.5,393.0 497.0,393.0 498.5,392.0 500.0,393.0 502.0,395.0 504.0,398.0 505.5,400.0 507.0,405.0 508.5,405.0 510.0,405.0 512.0,398.0 513.0,405.0 514.0,408.0 515.5,395.0 517.0,388.0 518.5,392.0 519.5,390.0 521.0,393.0 522.5,398.0 523.5,410.0 524.5,430.0 525.0,435.0 525.6,379.0 526.0,435.0" fill="none" stroke="#d0393f" stroke-width="1" stroke-linejoin="round"/>
<polyline points="416.5,425.0 417.5,415.0 418.5,407.0 419.5,406.0 421.0,407.0 422.0,415.0 423.0,420.0 424.0,422.0 425.5,421.0 427.0,424.0 429.0,427.0 431.0,427.0 432.5,424.0 434.5,418.0 436.0,422.0 437.0,430.0 438.0,435.0 439.0,432.0 440.0,420.0 441.0,440.0 442.0,445.0 443.0,435.0 444.0,440.0 446.0,430.0 447.5,425.0 449.0,420.0 450.5,430.0 452.0,423.0 453.5,428.0 455.0,405.0 456.0,415.0 457.0,430.0 458.5,440.0 459.5,440.0 460.5,442.0 461.5,420.0 463.0,430.0 464.0,423.0 465.5,425.0 467.0,430.0 468.0,425.0 469.5,432.0 471.0,438.0 472.5,428.0 474.0,430.0 475.5,420.0 476.5,428.0 478.0,420.0 479.5,437.0 481.0,422.0 482.0,413.0 483.0,425.0 484.5,400.0 485.5,420.0 486.5,425.0 487.5,462.0 488.5,425.0 489.5,407.0 490.5,420.0 491.5,428.0 493.0,425.0 494.5,410.0 496.0,420.0 497.5,425.0 499.0,430.0 500.5,440.0 502.0,423.0 503.0,420.0 504.5,432.0 506.0,428.0 507.5,423.0 509.0,432.0 510.5,420.0 512.0,423.0 513.5,432.0 515.0,430.0 516.5,400.0 518.0,395.0 519.5,392.0 521.0,395.0 522.5,405.0 524.0,395.0 525.0,400.0 526.0,420.0" fill="none" stroke="#2d6ba8" stroke-width="1" stroke-linejoin="round"/>
<line x1="217.5" y1="504.1" x2="367.3" y2="504.1" stroke="#666" stroke-width="0.9"/>
<line x1="217.5" y1="501.8" x2="217.5" y2="506.4" stroke="#333" stroke-width="0.9"/>
<text x="217.5" y="513.3" font-family="Liberation Serif, serif" font-size="7.2" fill="#222" text-anchor="middle"  >0</text>
<line x1="225.0" y1="503.0" x2="225.0" y2="505.2" stroke="#333" stroke-width="0.7"/>
<line x1="232.5" y1="503.0" x2="232.5" y2="505.2" stroke="#333" stroke-width="0.7"/>
<line x1="240.0" y1="503.0" x2="240.0" y2="505.2" stroke="#333" stroke-width="0.7"/>
<line x1="247.5" y1="503.0" x2="247.5" y2="505.2" stroke="#333" stroke-width="0.7"/>
<line x1="254.9" y1="501.8" x2="254.9" y2="506.4" stroke="#333" stroke-width="0.9"/>
<text x="254.9" y="513.3" font-family="Liberation Serif, serif" font-size="7.2" fill="#222" text-anchor="middle"  >500</text>
<line x1="262.4" y1="503.0" x2="262.4" y2="505.2" stroke="#333" stroke-width="0.7"/>
<line x1="269.9" y1="503.0" x2="269.9" y2="505.2" stroke="#333" stroke-width="0.7"/>
<line x1="277.4" y1="503.0" x2="277.4" y2="505.2" stroke="#333" stroke-width="0.7"/>
<line x1="284.9" y1="503.0" x2="284.9" y2="505.2" stroke="#333" stroke-width="0.7"/>
<line x1="292.4" y1="501.8" x2="292.4" y2="506.4" stroke="#333" stroke-width="0.9"/>
<text x="292.4" y="513.3" font-family="Liberation Serif, serif" font-size="7.2" fill="#222" text-anchor="middle"  >1000</text>
<line x1="299.9" y1="503.0" x2="299.9" y2="505.2" stroke="#333" stroke-width="0.7"/>
<line x1="307.4" y1="503.0" x2="307.4" y2="505.2" stroke="#333" stroke-width="0.7"/>
<line x1="314.9" y1="503.0" x2="314.9" y2="505.2" stroke="#333" stroke-width="0.7"/>
<line x1="322.4" y1="503.0" x2="322.4" y2="505.2" stroke="#333" stroke-width="0.7"/>
<line x1="329.9" y1="501.8" x2="329.9" y2="506.4" stroke="#333" stroke-width="0.9"/>
<text x="329.9" y="513.3" font-family="Liberation Serif, serif" font-size="7.2" fill="#222" text-anchor="middle"  >1500</text>
<line x1="337.3" y1="503.0" x2="337.3" y2="505.2" stroke="#333" stroke-width="0.7"/>
<line x1="344.8" y1="503.0" x2="344.8" y2="505.2" stroke="#333" stroke-width="0.7"/>
<line x1="352.3" y1="503.0" x2="352.3" y2="505.2" stroke="#333" stroke-width="0.7"/>
<line x1="359.8" y1="503.0" x2="359.8" y2="505.2" stroke="#333" stroke-width="0.7"/>
<line x1="367.3" y1="501.8" x2="367.3" y2="506.4" stroke="#333" stroke-width="0.9"/>
<text x="367.3" y="513.3" font-family="Liberation Serif, serif" font-size="7.2" fill="#222" text-anchor="middle"  >2000</text>
<line x1="402.4" y1="504.6" x2="552.2" y2="504.6" stroke="#666" stroke-width="0.9"/>
<line x1="402.4" y1="502.3" x2="402.4" y2="506.9" stroke="#333" stroke-width="0.9"/>
<text x="402.4" y="513.8" font-family="Liberation Serif, serif" font-size="7.2" fill="#222" text-anchor="middle"  >0</text>
<line x1="409.9" y1="503.5" x2="409.9" y2="505.7" stroke="#333" stroke-width="0.7"/>
<line x1="417.4" y1="503.5" x2="417.4" y2="505.7" stroke="#333" stroke-width="0.7"/>
<line x1="424.9" y1="503.5" x2="424.9" y2="505.7" stroke="#333" stroke-width="0.7"/>
<line x1="432.4" y1="503.5" x2="432.4" y2="505.7" stroke="#333" stroke-width="0.7"/>
<line x1="439.8" y1="502.3" x2="439.8" y2="506.9" stroke="#333" stroke-width="0.9"/>
<text x="439.8" y="513.8" font-family="Liberation Serif, serif" font-size="7.2" fill="#222" text-anchor="middle"  >500</text>
<line x1="447.3" y1="503.5" x2="447.3" y2="505.7" stroke="#333" stroke-width="0.7"/>
<line x1="454.8" y1="503.5" x2="454.8" y2="505.7" stroke="#333" stroke-width="0.7"/>
<line x1="462.3" y1="503.5" x2="462.3" y2="505.7" stroke="#333" stroke-width="0.7"/>
<line x1="469.8" y1="503.5" x2="469.8" y2="505.7" stroke="#333" stroke-width="0.7"/>
<line x1="477.3" y1="502.3" x2="477.3" y2="506.9" stroke="#333" stroke-width="0.9"/>
<text x="477.3" y="513.8" font-family="Liberation Serif, serif" font-size="7.2" fill="#222" text-anchor="middle"  >1000</text>
<line x1="484.8" y1="503.5" x2="484.8" y2="505.7" stroke="#333" stroke-width="0.7"/>
<line x1="492.3" y1="503.5" x2="492.3" y2="505.7" stroke="#333" stroke-width="0.7"/>
<line x1="499.8" y1="503.5" x2="499.8" y2="505.7" stroke="#333" stroke-width="0.7"/>
<line x1="507.3" y1="503.5" x2="507.3" y2="505.7" stroke="#333" stroke-width="0.7"/>
<line x1="514.8" y1="502.3" x2="514.8" y2="506.9" stroke="#333" stroke-width="0.9"/>
<text x="514.8" y="513.8" font-family="Liberation Serif, serif" font-size="7.2" fill="#222" text-anchor="middle"  >1500</text>
<line x1="522.2" y1="503.5" x2="522.2" y2="505.7" stroke="#333" stroke-width="0.7"/>
<line x1="529.7" y1="503.5" x2="529.7" y2="505.7" stroke="#333" stroke-width="0.7"/>
<line x1="537.2" y1="503.5" x2="537.2" y2="505.7" stroke="#333" stroke-width="0.7"/>
<line x1="544.7" y1="503.5" x2="544.7" y2="505.7" stroke="#333" stroke-width="0.7"/>
<line x1="552.2" y1="502.3" x2="552.2" y2="506.9" stroke="#333" stroke-width="0.9"/>
<text x="552.2" y="513.8" font-family="Liberation Serif, serif" font-size="7.2" fill="#222" text-anchor="middle"  >2000</text>
<text x="542.8" y="521.1" font-family="Liberation Serif, serif" font-size="7.2" fill="#222" text-anchor="middle"  >Yr BP</text>
<line x1="224.5" y1="490.5" x2="262.5" y2="490.5" stroke="#555" stroke-width="0.6"/>
<line x1="224.5" y1="489.4" x2="224.5" y2="491.6" stroke="#555" stroke-width="0.7"/>
<line x1="262.5" y1="489.4" x2="262.5" y2="491.6" stroke="#555" stroke-width="0.7"/>
<line x1="282.2" y1="491.1" x2="367.6" y2="491.1" stroke="#555" stroke-width="0.6"/>
<line x1="282.2" y1="490.0" x2="282.2" y2="492.2" stroke="#555" stroke-width="0.7"/>
<line x1="367.6" y1="490.0" x2="367.6" y2="492.2" stroke="#555" stroke-width="0.7"/>
<line x1="285.0" y1="493.2" x2="350.0" y2="493.2" stroke="#555" stroke-width="0.6"/>
<line x1="285.0" y1="492.1" x2="285.0" y2="494.3" stroke="#555" stroke-width="0.7"/>
<line x1="350.0" y1="492.1" x2="350.0" y2="494.3" stroke="#555" stroke-width="0.7"/>
<line x1="267.4" y1="496.3" x2="359.5" y2="496.3" stroke="#555" stroke-width="0.6"/>
<line x1="267.4" y1="495.2" x2="267.4" y2="497.4" stroke="#555" stroke-width="0.7"/>
<line x1="359.5" y1="495.2" x2="359.5" y2="497.4" stroke="#555" stroke-width="0.7"/>
<line x1="430.5" y1="490.0" x2="463.7" y2="490.0" stroke="#555" stroke-width="0.6"/>
<line x1="430.5" y1="488.9" x2="430.5" y2="491.1" stroke="#555" stroke-width="0.7"/>
<line x1="463.7" y1="488.9" x2="463.7" y2="491.1" stroke="#555" stroke-width="0.7"/>
<line x1="491.1" y1="490.5" x2="535.8" y2="490.5" stroke="#555" stroke-width="0.6"/>
<line x1="491.1" y1="489.4" x2="491.1" y2="491.6" stroke="#555" stroke-width="0.7"/>
<line x1="535.8" y1="489.4" x2="535.8" y2="491.6" stroke="#555" stroke-width="0.7"/>
<line x1="224.5" y1="490.3" x2="235" y2="490.3" stroke="#888" stroke-width="1.4"/>
<line x1="307.8" y1="490.6" x2="328.9" y2="490.6" stroke="#888" stroke-width="1.4"/>
<line x1="307.8" y1="493.3" x2="345" y2="493.3" stroke="#888" stroke-width="1.4"/>
<line x1="323.5" y1="496.1" x2="345.6" y2="496.1" stroke="#888" stroke-width="1.4"/>
<line x1="430.5" y1="489.8" x2="442" y2="489.8" stroke="#888" stroke-width="1.4"/>
<line x1="505" y1="490.9" x2="515.3" y2="490.9" stroke="#888" stroke-width="1.4"/>
<rect x="247.6" y="491.4" width="2" height="2" fill="#444"/>
<line x1="411.1" y1="490.7" x2="416" y2="490.7" stroke="#333" stroke-width="1" stroke-dasharray="1,1"/>
<rect x="269.7" y="522.9" width="15.1" height="11.3" fill="#f6c5a2"/>
<text x="289.6" y="531.0" font-family="Liberation Serif, serif" font-size="7.4" fill="#222" text-anchor="start"  >Aragonite (A)</text>
<rect x="365.7" y="522.9" width="15.1" height="11.3" fill="#91b8e1"/>
<text x="385.0" y="531.0" font-family="Liberation Serif, serif" font-size="7.4" fill="#222" text-anchor="start"  >Calcite (C)</text>
<rect x="450" y="522.9" width="14.6" height="11.3" fill="#cbbfbf"/>
<text x="470.0" y="531.0" font-family="Liberation Serif, serif" font-size="7.4" fill="#222" text-anchor="start"  >C&amp;A</text></svg>
<div class="ct" style="left:135.20px;top:332.58px;width:500.80px"><b class="fl">Figure 5.</b> Variations in δ<sup>13</sup>C, δ<sup>18</sup>O, and mineralogy in Stalagmite ANJB-2 and Stalagmite MAJ-5 during the Malagasy early Holocene</div>
<div class="ct l" style="left:135.20px;top:342.98px;width:500.80px">interval. Supplement Fig. S6 shows both the corrected and uncorrected isotope values.</div>
<div class="ct" style="left:135.20px;top:550.28px;width:500.80px"><b class="fl">Figure 6.</b> Variations in δ<sup>13</sup>C, δ<sup>18</sup>O, and mineralogy in Stalagmite ANJB-2 and Stalagmite MAJ-5 during the Malagasy late Holocene</div>
<div class="ct" style="left:135.20px;top:560.93px;width:500.80px">interval. Supplementary Fig. S7 shows both the corrected and uncorrected isotope values, and Fig. S8 compares the corrected δ<sup>18</sup>O values</div>
<div class="ct l" style="left:135.20px;top:571.58px;width:500.80px">for both stalagmites.</div>
<div class="hd" style="left:135px;top:605.21px;font-size:9.22px;font-weight:bold;color:#55246a">5</div>
<div class="hd" style="left:149.9px;top:605.21px;font-size:9.22px;font-weight:bold;color:#55246a">Discussion</div>
<div class="hd" style="left:135px;top:628.65px;font-size:9.38px">5.1</div>
<div class="hd" style="left:158px;top:628.65px;font-size:9.38px">Paleoclimate significance of stalagmite growth and</div>
<div class="hd" style="left:158px;top:640.35px;font-size:9.38px">nongrowth: implications for paleohydrology</div>
<div class="bt" style="left:134.90px;top:659.89px;width:240.10px">Growth and nongrowth of stalagmites depends on several</div>
<div class="bt" style="left:134.90px;top:671.81px;width:240.10px">factors linked to water availability, which is largely deter-</div>
<div class="bt" style="left:134.90px;top:683.73px;width:240.10px">mined by climate (more water during warm–rainy seasons</div>
<div class="bt" style="left:134.90px;top:695.65px;width:240.10px">and less water during cold–dry seasons). Water is the main</div>
<div class="bt" style="left:134.90px;top:707.57px;width:240.10px">dissolution and transporting agent for most chemicals in</div>
<div class="bt" style="left:134.90px;top:719.49px;width:240.10px">speleothems. Cave hydrology varies significantly over time</div>
<div class="bt" style="left:134.90px;top:731.41px;width:240.10px">in response to climate, and this variability influences the</div>
<div class="bt" style="left:134.90px;top:743.33px;width:240.10px">formation or dissolution of CaCO<sub>3</sub>. In this regard, calcium</div>
<div class="bt" style="left:134.90px;top:755.25px;width:240.10px">carbonate does not form if there is little or no water enter-</div>
<div class="bt" style="left:134.90px;top:767.17px;width:240.10px">ing the cave, or if there is too much (see Sect. 2.1). Ab-</div>
<div class="bt" style="left:134.90px;top:779.09px;width:240.10px">sence of groundwater recharge most typically occurs during</div>
<div class="bt" style="left:134.90px;top:791.01px;width:240.10px">extremely dry conditions, whereas excessive water input to</div>
<div class="bt" style="left:134.90px;top:802.93px;width:240.10px">the cave occurs during extremely wet conditions. In the lat-</div>
<div class="bt" style="left:395.90px;top:605.79px;width:240.20px">ter scenario, water is undersaturated and flow rates are too</div>
<div class="bt" style="left:395.90px;top:617.71px;width:240.20px">fast to allow degassing. Often, water availability is reflected</div>
<div class="bt" style="left:395.90px;top:629.63px;width:240.20px">in the extent of vegetation above and around the cave, as</div>
<div class="bt" style="left:395.90px;top:641.55px;width:240.20px">plants require soil moisture or shallow groundwater to sur-</div>
<div class="bt" style="left:395.90px;top:653.47px;width:240.20px">vive and propagate, and this contributes to the stalagmites’</div>
<div class="bt" style="left:395.90px;top:665.39px;width:240.20px">processes of formation. The link between stalagmite growth–</div>
<div class="bt" style="left:395.90px;top:677.31px;width:240.20px">nongrowth, cave drip water, and soil CO<sub>2</sub> is broadly influ-</div>
<div class="bt l" style="left:395.90px;top:689.23px;width:240.20px">enced by changes in climate.</div>
<div class="bt" style="left:406.10px;top:701.15px;width:230.00px">Major hiatuses in stalagmite deposition could be marked</div>
<div class="bt" style="left:395.90px;top:713.07px;width:240.20px">by a variety of features, including the presence of ero-</div>
<div class="bt" style="left:395.90px;top:724.99px;width:240.20px">sional surfaces, chalkification, dirt bands and/or detrital lay-</div>
<div class="bt" style="left:395.90px;top:736.91px;width:240.20px">ers, offsetting of the growth axis, and/or sometimes by color</div>
<div class="bt" style="left:395.90px;top:748.83px;width:240.20px">changes (e.g., Holmgren et al., 1995; Dutton et al., 2009;</div>
<div class="bt" style="left:395.90px;top:760.75px;width:240.20px">Railsback et al., 2013, 2015; Voarintsoa et al., 2017a). Rails-</div>
<div class="bt" style="left:395.90px;top:772.67px;width:240.20px">back et al. (2013) were able to identify significant features</div>
<div class="bt" style="left:395.90px;top:784.59px;width:240.20px">in stalagmites that allow distinction between nondeposition</div>
<div class="bt" style="left:395.90px;top:796.51px;width:240.20px">during extremely wet conditions (Type E surfaces) and non-</div>
<div class="hd" style="left:134.6px;top:832.04px;font-size:9.4px">Clim. Past, 13, 1771–1790, 2017</div>
<div class="hd" style="left:496.6px;top:832.03px;font-size:9.44px">www.clim-past.net/13/1771/2017/</div>
<div class="hd" style="left:377.5px;top:981.91px;font-size:14.5px;font-family:'Liberation Serif',serif;color:#111">37</div>
</body></html>
